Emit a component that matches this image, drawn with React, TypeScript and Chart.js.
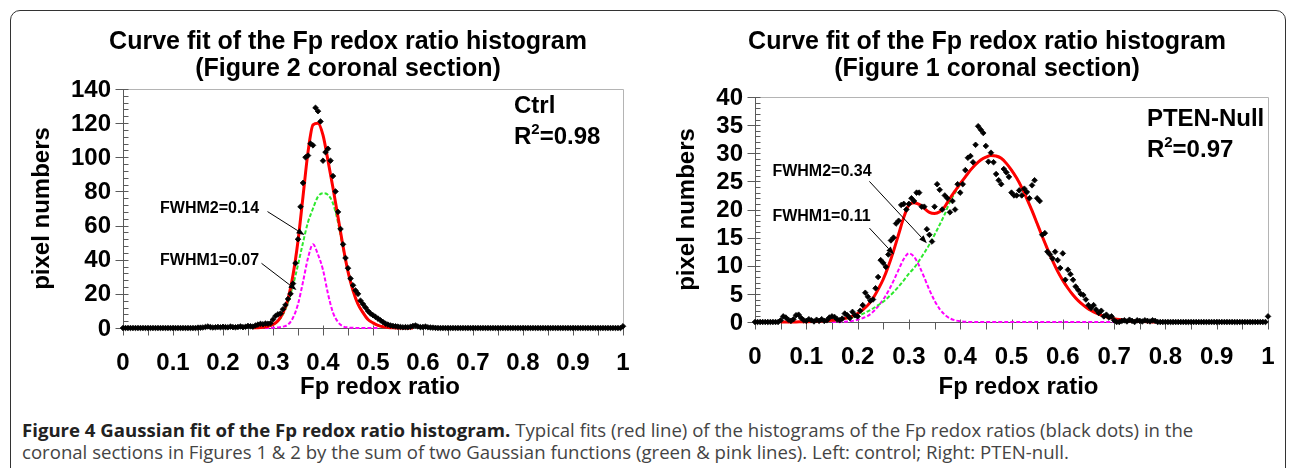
import React, { useEffect, useRef } from 'react';
import { Chart, registerables } from 'chart.js';

Chart.register(...registerables);

const FONT = "'Liberation Sans', Arial, Helvetica, sans-serif";

// ---------- shared axis ticks ----------
const xTicks = [0, 0.1, 0.2, 0.3, 0.4, 0.5, 0.6, 0.7, 0.8, 0.9, 1];
const xTickLabels = ['0', '0.1', '0.2', '0.3', '0.4', '0.5', '0.6', '0.7', '0.8', '0.9', '1'];
const ctrlYTicks = [0, 20, 40, 60, 80, 100, 120, 140];
const ptenYTicks = [0, 5, 10, 15, 20, 25, 30, 35, 40];

// histogram bin centres (201 bins over 0..1)
const binX = Array.from({ length: 201 }, (_, i) => i / 200);

// ---------- left panel: Ctrl (Figure 2 coronal section) ----------
const ctrlCounts = [
  0, 0, 0, 0, 0, 0, 0, 0, 0, 0,
  0, 0, 0, 0, 0, 0, 0, 0, 0, 0,
  0, 0, 0, 0, 0, 0, 0, 0, 0, 0,
  0.2, 0.2, 0.3, 0.6, 0.9, 0.5, 0.3, 0.4, 0.6, 0.4,
  0.7, 0.5, 0.4, 0.8, 0.5, 0.4, 0.6, 0.9, 0.5, 0.7,
  1.2, 1.0, 0.8, 1.5, 2.0, 2.4, 2.2, 2.6, 2.5, 2.8,
  5, 7, 8, 8.5, 11, 13.5, 17, 20, 26, 38,
  52, 71, 85, 100, 101, 108, 107, 129, 127, 121,
  98, 103, 105, 98, 89, 80, 68, 58, 49, 41,
  35, 29, 25, 22, 20, 16, 14, 12, 10, 8.5,
  7.5, 6.5, 5.5, 4.5, 3.5, 2.5, 2, 1.5, 1.2, 1,
  0.8, 0.6, 0.4, 0.5, 0.4, 0.7, 1.2, 1.5, 0.9, 0.5,
  0.6, 0.8, 0.4, 0.3, 0.2, 0.1, 0, 0, 0, 0,
  0, 0, 0, 0, 0, 0, 0, 0, 0, 0,
  0, 0, 0, 0, 0, 0, 0, 0, 0, 0,
  0, 0, 0, 0, 0, 0, 0, 0, 0, 0,
  0, 0, 0, 0, 0, 0, 0, 0, 0, 0,
  0, 0, 0, 0, 0, 0, 0, 0, 0, 0,
  0, 0, 0, 0, 0, 0, 0, 0, 0, 0,
  0, 0, 0, 0, 0, 0, 0, 0, 0, 0,
  1.0,
];

const ctrlFitX = [
  0.26, 0.27, 0.28, 0.29, 0.30, 0.31, 0.32, 0.33, 0.34, 0.35,
  0.36, 0.37, 0.38, 0.39, 0.40, 0.41, 0.42, 0.43, 0.44, 0.45,
  0.46, 0.47, 0.48, 0.49, 0.50, 0.51, 0.52, 0.53, 0.54, 0.55,
  0.56, 0.57, 0.58,
];
const ctrlRed = [
  0.1, 0.2, 0.5, 1.0, 2.1, 4.3, 8.8, 17, 31, 51,
  77, 103, 119, 120, 113, 98, 82, 65, 48, 33,
  22, 14, 9, 5, 3, 1.5, 0.7, 0.3, 0.1, 0,
  0, 0, 0,
];
const ctrlGreen = [
  null, null, 0.5, 1, 2, 4, 8, 15, 25, 37,
  50, 62, 70, 77, 79, 78, 73, 62, 47, 33,
  22, 14, 9, 5, 3, 1.5, 0.7, 0.3, 0.1, 0,
  0, null, null,
];
const ctrlMagenta = [
  0, 0, 0, 0, 0.1, 0.3, 0.8, 2, 6, 14,
  27, 41, 49, 43, 34, 20, 9, 3.5, 1, 0.3,
  0.1, 0, 0, 0, 0, 0, null, null, null, null,
  null, null, null,
];

// ---------- right panel: PTEN-Null (Figure 1 coronal section) ----------
const ptenCounts = [
  0, 0, 0, 0, 0, 0, 0, 0, 0, 0,
  0.3, 1.0, 0.8, 0.4, 0.2, 0.5, 1.2, 1.3, 0.7, 0.3,
  0.2, 0.5, 0.3, 0.1, 0.4, 0.2, 0.5, 0.2, 0.3, 0.8,
  1.0, 0.9, 0.5, 0.3, 0.6, 1.5, 1.2, 0.7, 1.8, 1.2,
  1.0, 2.0, 3.0, 5.2, 4.5, 3.8, 4.0, 6.0, 8.0, 11.0,
  10.5, 9.8, 12.0, 14.5, 15.0, 17.5, 18.0, 20.8, 21.0, 20.0,
  21.0, 22.0, 21.5, 23.0, 23.0, 20.5, 20.5, 16.5, 15.5, 14.3,
  20.5, 24.5, 23.5, 20.0, 22.5, 22.0, 19.5, 21.5, 20.0, 24.5,
  23.0, 24.5, 27.0, 29.2, 29.5, 28.4, 31.5, 34.8, 34.2, 33.6,
  31.3, 28.5, 30.1, 28.4, 26.3, 25.2, 24.5, 27.2, 26.6, 25.8,
  23.0, 22.5, 22.5, 23.4, 22.5, 23.7, 23.1, 22.0, 24.3, 25.2,
  22.0, 21.5, 15.5, 15.8, 12.5, 12.0, 11.3, 12.5, 11.0, 9.6,
  12.2, 7.5, 9.3, 8.5, 7.5, 6.3, 5.7, 5.0, 4.8, 4.0,
  3.0, 2.5, 3.0, 2.2, 1.6, 2.0, 1.0, 1.3, 0.8, 1.0,
  0.3, 0, 0, 0.2, 0.3, 0.1, 0.4, 0.2, 0, 0.3,
  0.2, 0.1, 0.3, 0.2, 0.1, 0.3, 0.2, 0, 0, 0,
  0, 0, 0, 0, 0, 0, 0, 0, 0, 0,
  0, 0, 0, 0, 0, 0, 0, 0, 0, 0,
  0, 0, 0, 0, 0, 0, 0, 0, 0, 0,
  0, 0, 0, 0, 0, 0, 0, 0, 0, 0,
  1.0,
];

const ptenFitX = [
  0.05, 0.06, 0.07, 0.08, 0.09, 0.10, 0.11, 0.12, 0.13, 0.14,
  0.15, 0.16, 0.17, 0.18, 0.19, 0.20, 0.21, 0.22, 0.23, 0.24,
  0.25, 0.26, 0.27, 0.28, 0.29, 0.30, 0.31, 0.32, 0.33, 0.34,
  0.35, 0.36, 0.37, 0.38, 0.39, 0.40, 0.41, 0.42, 0.43, 0.44,
  0.45, 0.46, 0.47, 0.48, 0.49, 0.50, 0.51, 0.52, 0.53, 0.54,
  0.55, 0.56, 0.57, 0.58, 0.59, 0.60, 0.61, 0.62, 0.63, 0.64,
  0.65, 0.66, 0.67, 0.68, 0.69, 0.70, 0.71, 0.72, 0.73, 0.74,
  0.75, 0.76, 0.77, 0.78,
];
const ptenRed = [
  0, 0, 0.01, 0.02, 0.04, 0.06, 0.08, 0.12, 0.17, 0.22,
  0.3, 0.4, 0.55, 0.75, 1.05, 1.5, 2.15, 3.0, 4.2, 5.8,
  7.6, 9.9, 12.6, 15.6, 18.6, 20.8, 21.2, 20.9, 20.2, 19.5,
  19.3, 19.6, 20.5, 22.0, 23.3, 24.6, 25.8, 27.0, 28.0, 28.8,
  29.3, 29.6, 29.5, 29.1, 28.2, 27.0, 25.6, 23.9, 21.9, 19.8,
  17.5, 15.2, 13.0, 10.9, 9.0, 7.4, 6.0, 4.8, 3.8, 3.0,
  2.3, 1.8, 1.4, 1.05, 0.8, 0.6, 0.45, 0.33, 0.24, 0.17,
  0.11, 0.07, 0.03, 0,
];
const ptenGreen = [
  null, null, null, null, null, null, null, null, null, null,
  0.3, 0.38, 0.5, 0.65, 0.85, 1.1, 1.45, 1.9, 2.4, 3.0,
  3.6, 4.4, 5.3, 6.3, 7.4, 8.6, 9.6, 10.9, 12.3, 13.8,
  15.5, 17.3, 19.2, 21.4, 23.0, 24.5, 25.8, 27.0, 28.0, 28.8,
  29.3, 29.6, 29.5, 29.1, 28.2, 27.0, 25.6, 23.9, 21.9, 19.8,
  17.5, 15.2, 13.0, 10.9, 9.0, 7.4, 6.0, 4.8, 3.8, 3.0,
  2.3, 1.8, 1.4, 1.05, 0.8, 0.6, 0.45, 0.33, 0.24, 0.17,
  0.11, 0.07, 0.03, 0,
];
const ptenMagenta = [
  null, null, null, null, null, null, null, null, null, null,
  0, 0, 0.05, 0.1, 0.2, 0.4, 0.7, 1.1, 1.8, 2.8,
  4.0, 5.5, 7.3, 9.3, 11.2, 12.2, 11.6, 10.0, 7.9, 5.7,
  3.8, 2.3, 1.3, 0.65, 0.3, 0.12, 0.05, 0, 0, 0,
  0, 0, 0, 0, 0, 0, 0, 0, 0, 0,
  0, 0, 0, 0, 0, 0, 0, 0, 0, 0,
  0, 0, 0, 0, 0, 0, null, null, null, null,
  null, null, null, null,
];

// ---------- panel descriptions ----------
type Note = { text: string; tx: number; ty: number; x0: number; y0: number; x1: number; y1: number };
type Panel = {
  titles: [string, string];
  counts: number[];
  fitX: number[];
  red: (number | null)[];
  green: (number | null)[];
  magenta: (number | null)[];
  yMax: number;
  yTicks: number[];
  yMinor: number;
  tag: string;
  r2: string;
  tagPos: [number, number, number]; // x, tag baseline value, r2 baseline value
  notes: Note[];
  pad: { left: number; top: number; right: number; bottom: number };
  titleCx: number;
  yTitleX: number;
  xTitleY: number;
};

const ctrlPanel: Panel = {
  titles: ['Curve fit of the Fp redox ratio histogram', '(Figure 2 coronal section)'],
  counts: ctrlCounts,
  fitX: ctrlFitX,
  red: ctrlRed,
  green: ctrlGreen,
  magenta: ctrlMagenta,
  yMax: 140,
  yTicks: ctrlYTicks,
  yMinor: 4,
  tag: 'Ctrl',
  r2: '0.98',
  tagPos: [0.782, 126, 107.5],
  notes: [
    { text: 'FWHM2=0.14', tx: 0.074, ty: 67.5, x0: 0.289, y0: 68.2, x1: 0.363, y1: 54.5 },
    { text: 'FWHM1=0.07', tx: 0.074, ty: 36.9, x0: 0.277, y0: 37.9, x1: 0.347, y1: 22.2 },
  ],
  pad: { left: 123, top: 89, right: 22, bottom: 82 },
  titleCx: 348,
  yTitleX: 42,
  xTitleY: 394,
};

const ptenPanel: Panel = {
  titles: ['Curve fit of the Fp redox ratio histogram', '(Figure 1 coronal section)'],
  counts: ptenCounts,
  fitX: ptenFitX,
  red: ptenRed,
  green: ptenGreen,
  magenta: ptenMagenta,
  yMax: 40,
  yTicks: ptenYTicks,
  yMinor: 1,
  tag: 'PTEN-Null',
  r2: '0.97',
  tagPos: [0.764, 34.9, 29.4],
  notes: [
    { text: 'FWHM2=0.34', tx: 0.034, ty: 25.9, x0: 0.223, y0: 25.0, x1: 0.335, y1: 14.0 },
    { text: 'FWHM1=0.11', tx: 0.034, ty: 17.9, x0: 0.223, y0: 16.7, x1: 0.271, y1: 12.0 },
  ],
  pad: { left: 110, top: 97, right: 22, bottom: 88 },
  titleCx: 342,
  yTitleX: 42,
  xTitleY: 394,
};

// ---------- drawing helpers ----------
function makeDecor(p: Panel) {
  return {
    id: 'decor',
    beforeDatasetsDraw(chart: any) {
      const { ctx, chartArea: a, scales } = chart;
      const x = scales.x;
      const y = scales.y;
      const y0 = Math.round(y.getPixelForValue(0)) + 0.5;
      const ax = Math.round(a.left) + 0.5;
      ctx.save();
      ctx.lineWidth = 1;
      // light frame (top, right)
      ctx.strokeStyle = '#b4b4b4';
      ctx.beginPath();
      ctx.moveTo(ax, Math.round(a.top) + 0.5);
      ctx.lineTo(Math.round(a.right) + 0.5, Math.round(a.top) + 0.5);
      ctx.lineTo(Math.round(a.right) + 0.5, y0);
      ctx.stroke();
      // axes
      ctx.strokeStyle = '#5a5a5a';
      ctx.beginPath();
      ctx.moveTo(ax, Math.round(a.top));
      ctx.lineTo(ax, y0);
      ctx.lineTo(Math.round(a.right) + 1, y0);
      ctx.stroke();
      // y ticks (major crossing, minor inside)
      ctx.beginPath();
      const nMinor = Math.round(p.yMax / p.yMinor);
      for (let k = 0; k <= nMinor; k++) {
        const v = k * p.yMinor;
        const py = Math.round(y.getPixelForValue(v)) + 0.5;
        const major = p.yTicks.includes(v);
        ctx.moveTo(major ? ax - 8 : ax, py);
        ctx.lineTo(ax + 5, py);
      }
      // x ticks every 0.05
      for (let k = 0; k <= 20; k++) {
        const px = Math.round(x.getPixelForValue(k / 20)) + 0.5;
        ctx.moveTo(px, y0 - (k % 2 === 0 ? 3 : 0));
        ctx.lineTo(px, y0 + 7);
      }
      ctx.stroke();
      ctx.restore();
    },
    afterDraw(chart: any) {
      const { ctx, chartArea: a, scales } = chart;
      const x = scales.x;
      const y = scales.y;
      const y0 = y.getPixelForValue(0);
      ctx.save();
      ctx.fillStyle = '#000';
      // titles
      ctx.font = `bold 25px ${FONT}`;
      ctx.textAlign = 'center';
      ctx.textBaseline = 'alphabetic';
      ctx.fillText(p.titles[0], p.titleCx, 49);
      ctx.fillText(p.titles[1], p.titleCx, 76);
      // y tick labels
      ctx.font = `bold 24px ${FONT}`;
      ctx.textAlign = 'right';
      ctx.textBaseline = 'middle';
      p.yTicks.forEach((v) => ctx.fillText(String(v), a.left - 12, y.getPixelForValue(v) + 1));
      // x tick labels
      ctx.textAlign = 'center';
      xTicks.forEach((t, i) => ctx.fillText(xTickLabels[i], x.getPixelForValue(t), y0 + 35));
      // axis titles
      ctx.textBaseline = 'alphabetic';
      ctx.fillText('Fp redox ratio', (a.left + a.right) / 2 + 7, p.xTitleY);
      ctx.save();
      ctx.translate(p.yTitleX, (a.top + a.bottom) / 2);
      ctx.rotate(-Math.PI / 2);
      ctx.textBaseline = 'middle';
      ctx.fillText('pixel numbers', 0, 0);
      ctx.restore();
      // tag and R^2
      const tx = x.getPixelForValue(p.tagPos[0]);
      ctx.textAlign = 'left';
      ctx.fillText(p.tag, tx, y.getPixelForValue(p.tagPos[1]));
      const rb = y.getPixelForValue(p.tagPos[2]);
      ctx.fillText('R', tx, rb);
      let w = ctx.measureText('R').width;
      ctx.font = `bold 15px ${FONT}`;
      ctx.fillText('2', tx + w, rb - 10);
      w += ctx.measureText('2').width;
      ctx.font = `bold 24px ${FONT}`;
      ctx.fillText('=' + p.r2, tx + w, rb);
      // FWHM notes with arrows
      ctx.font = `bold 16px ${FONT}`;
      ctx.strokeStyle = '#000';
      ctx.lineWidth = 1;
      p.notes.forEach((n) => {
        ctx.fillText(n.text, x.getPixelForValue(n.tx), y.getPixelForValue(n.ty));
        const x0 = x.getPixelForValue(n.x0);
        const yy0 = y.getPixelForValue(n.y0);
        const x1 = x.getPixelForValue(n.x1);
        const yy1 = y.getPixelForValue(n.y1);
        const ang = Math.atan2(yy1 - yy0, x1 - x0);
        const L = 8;
        const H = 3;
        const bx = x1 - L * Math.cos(ang);
        const by = yy1 - L * Math.sin(ang);
        ctx.beginPath();
        ctx.moveTo(x0, yy0);
        ctx.lineTo(bx, by);
        ctx.stroke();
        ctx.beginPath();
        ctx.moveTo(x1, yy1);
        ctx.lineTo(bx + H * Math.sin(ang), by - H * Math.cos(ang));
        ctx.lineTo(bx - H * Math.sin(ang), by + H * Math.cos(ang));
        ctx.closePath();
        ctx.fill();
      });
      ctx.restore();
    },
  };
}

function buildConfig(p: Panel): any {
  const pts = (xs: number[], ys: (number | null)[]) => xs.map((xv, i) => ({ x: xv, y: ys[i] }));
  return {
    type: 'line',
    data: {
      datasets: [
        {
          data: pts(binX, p.counts),
          showLine: false,
          pointStyle: 'rectRot',
          pointRadius: 2.8,
          pointBorderWidth: 0.8,
          pointBackgroundColor: '#000',
          pointBorderColor: '#000',
          clip: false,
        },
        {
          data: pts(p.fitX, p.red),
          borderColor: '#ff0000',
          borderWidth: 3,
          pointRadius: 0,
          cubicInterpolationMode: 'monotone',
          spanGaps: false,
          clip: false,
        },
        {
          data: pts(p.fitX, p.green),
          borderColor: '#2ee82e',
          borderWidth: 2,
          borderDash: [4, 2],
          pointRadius: 0,
          cubicInterpolationMode: 'monotone',
          spanGaps: false,
          clip: false,
        },
        {
          data: pts(p.fitX, p.magenta),
          borderColor: '#ff00ff',
          borderWidth: 2,
          borderDash: [4, 2],
          pointRadius: 0,
          cubicInterpolationMode: 'monotone',
          spanGaps: false,
          clip: false,
        },
      ],
    },
    options: {
      responsive: false,
      animation: false,
      devicePixelRatio: 1,
      layout: { padding: p.pad },
      plugins: { legend: { display: false }, tooltip: { enabled: false }, title: { display: false } },
      scales: {
        x: { type: 'linear', min: 0, max: 1, display: false },
        y: { type: 'linear', min: 0, max: p.yMax, display: false },
      },
    },
    plugins: [makeDecor(p)],
  };
}

function ChartPanel({ panel, left }: { panel: Panel; left: number }) {
  const ref = useRef<HTMLCanvasElement>(null);
  useEffect(() => {
    const chart = new Chart(ref.current as HTMLCanvasElement, buildConfig(panel));
    return () => chart.destroy();
  }, [panel]);
  return (
    <canvas
      ref={ref}
      width={645}
      height={410}
      style={{ position: 'absolute', left, top: 0, width: 645, height: 410 }}
    />
  );
}

export default function App() {
  return (
    <div
      style={{
        position: 'absolute',
        left: 0,
        top: 0,
        width: 1290,
        height: 468,
        overflow: 'hidden',
        background: '#fff',
      }}
    >
      <div
        style={{
          position: 'absolute',
          left: 10,
          top: 10,
          width: 1276,
          height: 520,
          border: '1px solid #333',
          borderRadius: 10,
          boxSizing: 'border-box',
        }}
      />
      <ChartPanel panel={ctrlPanel} left={0} />
      <ChartPanel panel={ptenPanel} left={645} />
      <div
        style={{
          position: 'absolute',
          left: 22,
          top: 419,
          fontFamily: "'Open Sans', sans-serif",
          fontSize: 18.6,
          lineHeight: '22px',
          color: '#444',
          whiteSpace: 'nowrap',
        }}
      >
        <span style={{ fontWeight: 700, color: '#222' }}>Figure 4 Gaussian fit of the Fp redox ratio histogram.</span>{' '}
        Typical fits (red line) of the histograms of the Fp redox ratios (black dots) in the
        <br />
        coronal sections in Figures 1 &amp; 2 by the sum of two Gaussian functions (green &amp; pink lines). Left: control;
        Right: PTEN-null.
      </div>
    </div>
  );
}
